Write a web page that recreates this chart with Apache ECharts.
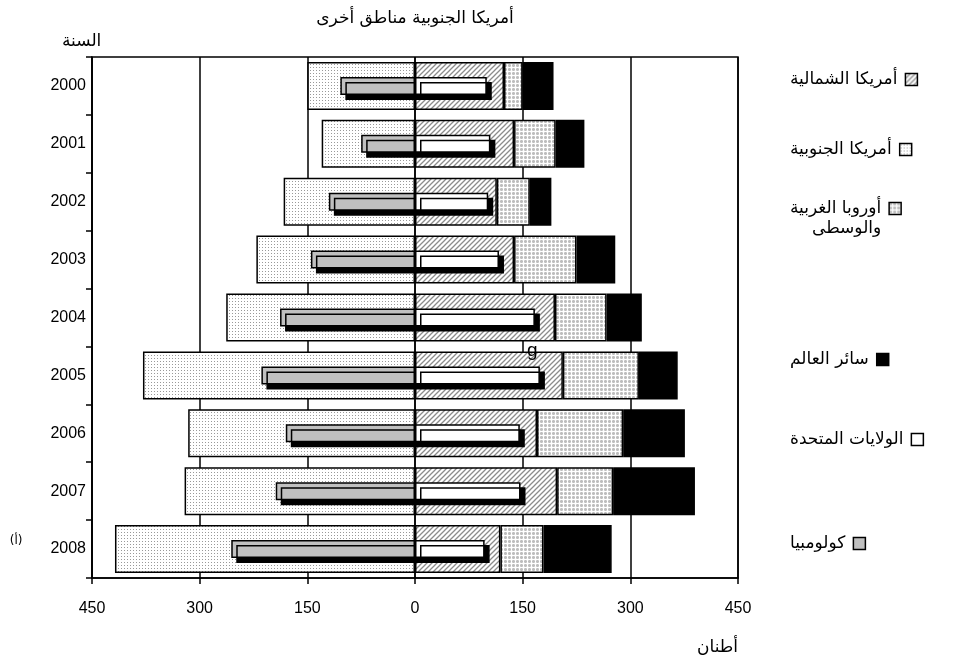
<!DOCTYPE html>
<html><head><meta charset="utf-8">
<script src="https://cdn.jsdelivr.net/npm/echarts@6/dist/echarts.min.js"></script>
<style>html,body{margin:0;padding:0;background:#fff}#c{width:959px;height:668px}</style>
</head><body><div id="c"></div>
<script>
// ---- data (tonnes) ----
const years = ['2000','2001','2002','2003','2004','2005','2006','2007','2008'];
const southAmerica = [150,130,183,221,263,379,316,321,418];
const colombia     = [104, 75,120,145,188,214,180,194,256];
const northAmerica = [124,138,114,138,195,206,170,198,119];
const westCentralEurope = [26, 58, 46, 87, 72,106,120, 78, 60];
const restOfWorld  = [ 43, 40, 30, 54, 49, 54, 86,114, 95];
const unitedStates = [100,105,102,117,167,174,146,147, 97];
const xTicks = [-450,-300,-150,0,150,300,450];

const names = {
  na: 'أمريكا الشمالية',
  sa: 'أمريكا الجنوبية',
  eu: 'أوروبا الغربية والوسطى',
  row: 'سائر العالم',
  us: 'الولايات المتحدة',
  col: 'كولومبيا'
};

// ---- patterns ----
function tile(w, h, draw) {
  const c = document.createElement('canvas'); c.width = w; c.height = h;
  const g = c.getContext('2d'); g.fillStyle = '#fff'; g.fillRect(0,0,w,h); draw(g);
  return {image: c, repeat: 'repeat'};
}
const hatch = tile(5,5,g=>{g.strokeStyle='#8c8c8c';g.lineWidth=1.3;g.beginPath();
  g.moveTo(-1,6);g.lineTo(6,-1);g.moveTo(-1,1);g.lineTo(1,-1);g.moveTo(4,6);g.lineTo(6,4);g.stroke();});
const sparse = tile(3,3,g=>{g.fillStyle='#999';g.fillRect(1,1,1,1);});
const dense = tile(4,4,g=>{g.fillStyle='#bdbdbd';g.fillRect(0,0,3,3);g.fillStyle='#d4d4d4';g.fillRect(0,0,1,1);g.fillRect(2,0,1,1);g.fillRect(0,2,1,1);g.fillRect(2,2,1,1);});

const AR = 'DejaVu Sans';
const LAT = 'Liberation Sans, Arial';
const border = {borderColor:'#000', borderWidth:1.5};
const shadow = {shadowColor:'#000', shadowBlur:0, shadowOffsetX:5, shadowOffsetY:5};
const neg = a => a.map(v => -v);

function legendAt(name, top, fmt) {
  return {
    data:[{name:name, icon:'rect'}], left:785, top:top, orient:'vertical', align:'right',
    itemWidth:12, itemHeight:12, itemGap:6, selectedMode:false,
    itemStyle:{shadowBlur:0, shadowOffsetX:0, shadowOffsetY:0, shadowColor:'rgba(0,0,0,0)', borderWidth:1.5, borderColor:'#000'},
    formatter: fmt || (n=>n),
    textStyle:{fontFamily:AR, fontSize:17, color:'#000', padding:[0,3,0,0]}
  };
}

const chart = echarts.init(document.getElementById('c'), null, {renderer:'canvas'});
chart.setOption({
  backgroundColor:'#fff',
  animation:false,
  title:{text:'أمريكا الجنوبية مناطق أخرى', left:410, top:5, textAlign:'center',
    textStyle:{fontFamily:AR, fontSize:17, fontWeight:'normal', color:'#000'}},
  grid:{left:92, right:221, top:57, bottom:90, show:true, borderColor:'#000', borderWidth:1.5, backgroundColor:'#fff', outerBoundsMode:'none'},
  legend:[
    legendAt(names.na, 66),
    legendAt(names.sa, 136),
    legendAt(names.eu, 195, ()=> 'أوروبا الغربية'),
    legendAt(names.row, 346),
    legendAt(names.us, 426),
    legendAt(names.col, 530)
  ],
  xAxis:{type:'value', min:-450, max:450, interval:150,
    axisLine:{show:true, lineStyle:{color:'#000', width:1.5}},
    axisTick:{show:true, length:6, lineStyle:{color:'#000', width:1.5}},
    splitLine:{show:true, lineStyle:{color:'#000', width:1.5}},
    axisLabel:{margin:23, color:'#000', fontFamily:LAT, fontSize:16, formatter:v=>String(Math.abs(v))}},
  yAxis:[
    {type:'category', data:years, inverse:true,
      axisLine:{show:true, onZero:false, lineStyle:{color:'#000', width:1.5}},
      axisTick:{show:true, length:6, lineStyle:{color:'#000', width:1.5}},
      axisLabel:{margin:6, color:'#000', fontFamily:LAT, fontSize:16,
        formatter:v=> v==='2008' ? '{s|(أ)}'+v : v,
        rich:{s:{fontFamily:AR, fontSize:12, color:'#000', padding:[0,28,16,0]}}}},
    {type:'category', data:years, inverse:true, show:false}
  ],
  series:[
    {name:names.sa, type:'bar', stack:'w', yAxisIndex:0, barWidth:48, data:neg(southAmerica),
      itemStyle:Object.assign({color:sparse}, border)},
    {name:names.na, type:'bar', stack:'w', yAxisIndex:0, barWidth:48, data:northAmerica,
      itemStyle:Object.assign({color:hatch}, border)},
    {name:names.eu, type:'bar', stack:'w', yAxisIndex:0, barWidth:48, data:westCentralEurope,
      itemStyle:Object.assign({color:dense}, border)},
    {name:names.row, type:'bar', stack:'w', yAxisIndex:0, barWidth:48, data:restOfWorld,
      itemStyle:Object.assign({color:'#000'}, border)},
    {name:names.col, type:'bar', stack:'n', yAxisIndex:1, barWidth:18, z:3, data:neg(colombia),
      itemStyle:Object.assign({color:'#c0c0c0'}, border, shadow)},
    {name:names.us, type:'bar', stack:'n', yAxisIndex:1, barWidth:18, z:3, data:unitedStates,
      itemStyle:Object.assign({color:'#fff'}, border, shadow),
      markLine:{silent:true, symbol:['none','none'], label:{show:false},
        lineStyle:{color:'#000', width:1.5, type:'solid'}, data:[{xAxis:0}]}}
  ],
  graphic:[
    {type:'text', left:62, top:33, style:{text:'السنة', font:'17px '+AR, fill:'#000'}},
    {type:'text', left:697, top:639, style:{text:'أطنان', font:'17px '+AR, fill:'#000'}},
    {type:'text', left:812, top:220, style:{text:'والوسطى', font:'17px '+AR, fill:'#000'}},
    {type:'text', left:527, top:341, z:100, style:{text:'g', font:'19px '+LAT, fill:'#000'}}
  ]
});
</script>
</body></html>
